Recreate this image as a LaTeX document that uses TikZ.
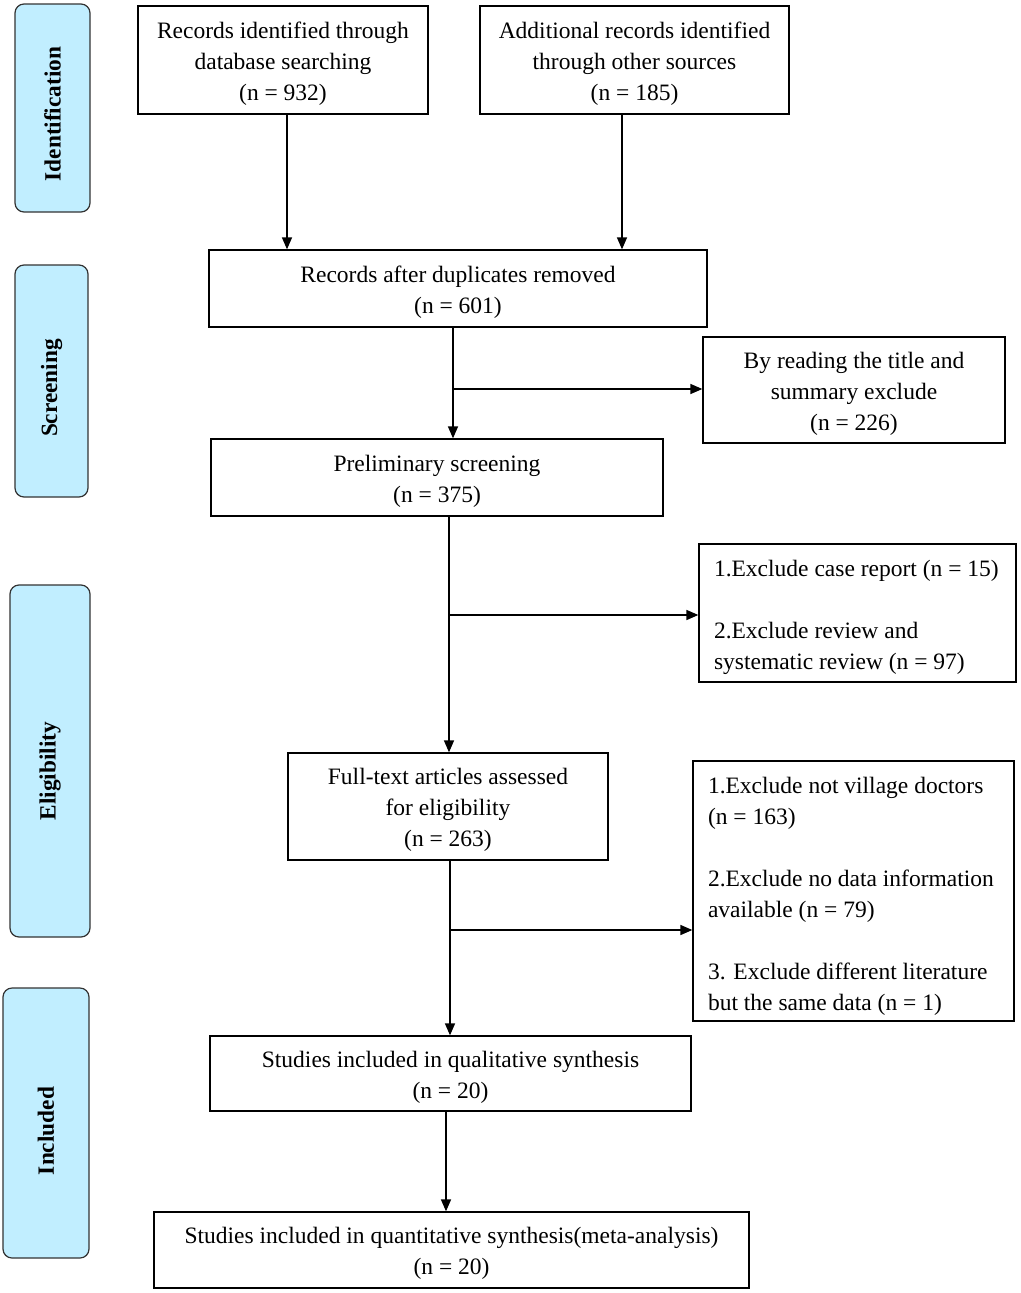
\documentclass[tikz,border=0pt]{standalone}
\usepackage{fontspec}
\setmainfont{Liberation Serif}
\usetikzlibrary{arrows.meta}
\definecolor{sidefill}{HTML}{C1EEFF}
\definecolor{sideline}{HTML}{333333}
\newcommand\topstrut{\rule{0pt}{23pt}}
\begin{document}
\begin{tikzpicture}[x=1pt,y=-1pt,
  box/.style={draw=black,line width=1.3pt,inner sep=0pt,align=center,
    font=\fontsize{23.5}{31}\selectfont},
  lbox/.style={draw=black,line width=1.3pt,inner xsep=15pt,inner ysep=0pt,align=flush left,
    font=\fontsize{23.5}{31}\selectfont,execute at begin node={\rule{0pt}{26pt}}},
  side/.style={draw=sideline,fill=sidefill,line width=1.2pt,rounded corners=9pt,inner sep=0pt},
  sidetxt/.style={rotate=90,font=\bfseries\fontsize{23.3}{27}\selectfont},
  arr/.style={line width=1.5pt,-{Triangle[length=12pt,width=10pt]}}]
\useasboundingbox (0,0) rectangle (1020,1293);
\fill[white] (0,0) rectangle (1020,1293);
% side labels
\node[side,minimum width=75pt,minimum height=208pt] (sid) at (52.5,108) {};
\node[sidetxt] (sidt) at (52.5,114) {Identification};
\node[side,minimum width=73pt,minimum height=232pt] (sscr) at (51.5,381) {};
\node[sidetxt] (sscrt) at (51.5,388) {Screening};
\node[side,minimum width=80pt,minimum height=352pt] (seli) at (50,761) {};
\node[sidetxt] (selit) at (50,771) {Eligibility};
\node[side,minimum width=86pt,minimum height=270pt] (sinc) at (46,1123) {};
\node[sidetxt] (sinct) at (46,1131) {Included};
% main boxes
\node[box,minimum width=290pt,minimum height=108pt] (db) at (283,60)
  {\topstrut Records identified through\\database searching\\(n = 932)};
\node[box,minimum width=309pt,minimum height=108pt] (oth) at (634.5,60)
  {\topstrut Additional records identified\\through other sources\\(n = 185)};
\node[box,minimum width=498pt,minimum height=77pt] (dup) at (458,288.5)
  {\topstrut Records after duplicates removed\\(n = 601)};
\node[box,minimum width=302pt,minimum height=106pt] (ex1) at (854,390)
  {\topstrut By reading the title and\\summary exclude\\(n = 226)};
\node[box,minimum width=452pt,minimum height=77pt] (pre) at (437,477.5)
  {\topstrut Preliminary screening\\(n = 375)};
\node[lbox,text width=287pt,minimum height=138pt] (ex2) at (857.5,613)
  {1.Exclude case report (n = 15)\\[31pt]2.Exclude review and\\systematic review (n = 97)};
\node[box,minimum width=320pt,minimum height=107pt] (ful) at (448,806.5)
  {\topstrut Full-text articles assessed\\for eligibility\\(n = 263)};
\node[lbox,text width=291pt,minimum height=260pt] (ex3) at (853.5,891)
  {1.Exclude not village doctors\\(n = 163)\\[31pt]2.Exclude no data information\\available (n = 79)\\[31pt]3. Exclude different literature\\but the same data (n = 1)};
\node[box,minimum width=481pt,minimum height=75pt] (qual) at (450.5,1073.5)
  {\topstrut Studies included in qualitative synthesis\\(n = 20)};
\node[box,minimum width=595pt,minimum height=76pt] (quan) at (451.5,1250)
  {\topstrut Studies included in quantitative synthesis(meta-analysis)\\(n = 20)};
% connector x positions
\coordinate (c1) at (287,0);
\coordinate (c2) at (622,0);
\coordinate (c3) at (453,0);
\coordinate (c4) at (449,0);
\coordinate (c5) at (450,0);
\coordinate (c6) at (446,0);
\coordinate (b1) at (453,389);
\coordinate (b2) at (448,615);
\coordinate (b3) at (450,930);
% connectors
\draw[arr] (db.south -| c1) -- (dup.north -| c1);
\draw[arr] (oth.south -| c2) -- (dup.north -| c2);
\draw[arr] (dup.south -| c3) -- (pre.north -| c3);
\draw[arr] (b1) -- (b1 -| ex1.west);
\draw[arr] (pre.south -| c4) -- (ful.north -| c4);
\draw[arr] (b2) -- (b2 -| ex2.west);
\draw[arr] (ful.south -| c5) -- (qual.north -| c5);
\draw[arr] (b3) -- (b3 -| ex3.west);
\draw[arr] (qual.south -| c6) -- (quan.north -| c6);
\end{tikzpicture}
\end{document}
